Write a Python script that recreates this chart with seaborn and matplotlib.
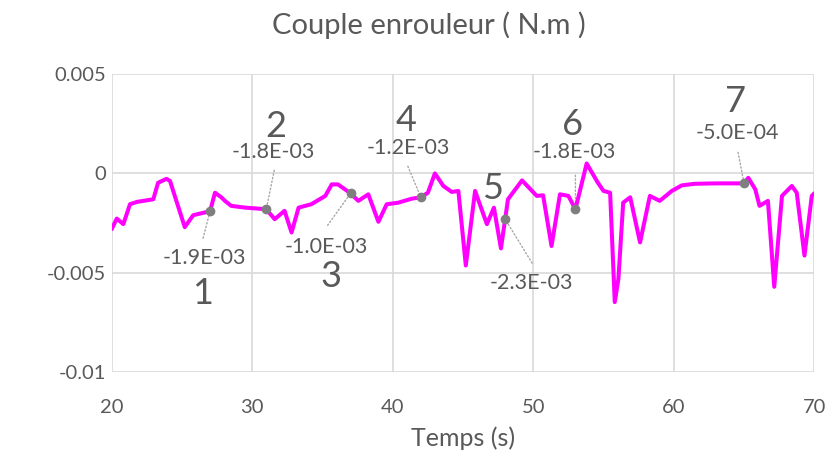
import matplotlib
matplotlib.use("Agg")
import matplotlib.pyplot as plt
import seaborn as sns
import pandas as pd

# Time (s) and winder torque (N.m)
temps = [20, 20.36, 20.83, 21.3, 21.8, 22.96, 23.3, 23.9, 24.15, 25.2, 25.8,
         27.0, 27.35, 27.8, 28.06, 28.5, 29.5, 31.0, 31.6, 32.3, 32.8, 33.3,
         34.2, 35.2, 35.66, 36.1, 36.6, 37.0, 37.55, 38.26, 38.98, 39.57, 40.4,
         41.35, 42.0, 42.5, 43.0, 43.6, 44.2, 44.67, 45.2, 45.86, 46.7, 47.2,
         47.7, 48.0, 48.2, 49.2, 50.25, 50.7, 51.3, 51.9, 52.5, 53.0, 53.8,
         54.6, 55.0, 55.47, 55.8, 56.06, 56.4, 56.9, 57.6, 58.3, 59.0, 59.86,
         60.57, 61.5, 63.0, 65.0, 65.3, 65.8, 66.1, 66.7, 67.15, 67.7, 68.4,
         68.75, 69.3, 69.82, 70]
couple_milli = [-2.8, -2.27, -2.55, -1.55, -1.43, -1.3, -0.47, -0.27, -0.38,
                -2.7, -2.1, -1.9, -0.97, -1.2, -1.38, -1.63, -1.72, -1.8, -2.3,
                -1.88, -2.97, -1.72, -1.55, -1.13, -0.55, -0.55, -0.8, -1.0,
                -1.38, -1.05, -2.43, -1.55, -1.47, -1.27, -1.2, -0.97, 0.0,
                -0.63, -0.93, -0.88, -4.63, -0.88, -2.55, -1.72, -3.77, -2.3,
                -1.3, -0.35, -1.13, -1.1, -3.65, -1.05, -1.13, -1.8, 0.5,
                -0.47, -0.88, -0.97, -6.47, -5.3, -1.47, -1.2, -3.47, -1.13,
                -1.38, -0.88, -0.6, -0.52, -0.5, -0.5, -0.22, -0.8, -1.63,
                -1.38, -5.7, -1.13, -0.63, -0.97, -4.13, -1.13, -1.0]
couple = [c * 1e-3 for c in couple_milli]

# Marked points
repere_t = [27, 31, 37, 42, 48, 53, 65]
repere_v = [-1.9e-3, -1.8e-3, -1.0e-3, -1.2e-3, -2.3e-3, -1.8e-3, -5.0e-4]
repere_num = ["1", "2", "3", "4", "5", "6", "7"]

y_ticks = [0.005, 0, -0.005, -0.01]
y_tick_labels = ["0.005", "0", "-0.005", "-0.01"]
x_ticks = [20, 30, 40, 50, 60, 70]

# label placement (pixels): value label, leader end, number label
val_off = [(-6, -47), (7, 57), (-24, -54), (-13, 49), (26, -64), (-1, 57), (-7, 50)]
lead_off = [(-7, -27), (8, 39), (-23, -32), (-13, 31), (27, -44), (0, 34), (-6, 31)]
num_off = [(-8, -82), (9, 83), (-20, -83), (-15, 77), (-13, 31), (-3, 85), (-9, 82)]

sns.set_theme(style="white")
plt.rcParams["font.family"] = ["Lato", "DejaVu Sans"]

grey = "#595959"
fig = plt.figure(figsize=(8.32, 4.73), dpi=100)
ax = fig.add_axes([111.7 / 832, 1 - 372.3 / 473, (814.3 - 111.7) / 832, (372.3 - 74) / 473])

df = pd.DataFrame({"Temps": temps, "Couple": couple})
sns.lineplot(data=df, x="Temps", y="Couple", ax=ax, color="#FF00FF", lw=2.9,
             solid_joinstyle="round", solid_capstyle="round", zorder=3)

ax.set_xlim(20, 70)
ax.set_ylim(-0.01, 0.005)
ax.set_xticks(x_ticks)
ax.set_yticks(y_ticks)
ax.set_yticklabels(y_tick_labels)
ax.grid(True, color="#D9D9D9", lw=1.2)
for s in ax.spines.values():
    s.set_visible(False)
ax.tick_params(axis="x", length=0, pad=19, labelsize=14.5, labelcolor=grey)
ax.tick_params(axis="y", length=0, pad=4, labelsize=14.5, labelcolor=grey)
ax.set_xlabel("Temps (s)", fontsize=18, color=grey, labelpad=8)
ax.set_ylabel("")

fig.text(429 / 832, 1 - 25 / 473, "Couple enrouleur ( N.m )", fontsize=21,
         color=grey, ha="center", va="center")

for t, v, n, vo, lo, no in zip(repere_t, repere_v, repere_num, val_off, lead_off, num_off):
    ax.plot([t], [v], "o", color="#7F7F7F", ms=6, zorder=4)
    ax.annotate("", xy=(t, v), xytext=lo, textcoords="offset pixels",
                arrowprops=dict(arrowstyle="-", color="#A6A6A6", lw=1, ls=":",
                                shrinkA=0, shrinkB=0), zorder=2)
    ax.annotate(f"{v:.1E}", xy=(t, v), xytext=vo, textcoords="offset pixels",
                ha="center", va="center", fontsize=15.5, color=grey, zorder=5)
    ax.annotate(n, xy=(t, v), xytext=no, textcoords="offset pixels",
                ha="center", va="center", fontsize=26, color=grey, zorder=5)

fig.savefig("out.png", dpi=100)
